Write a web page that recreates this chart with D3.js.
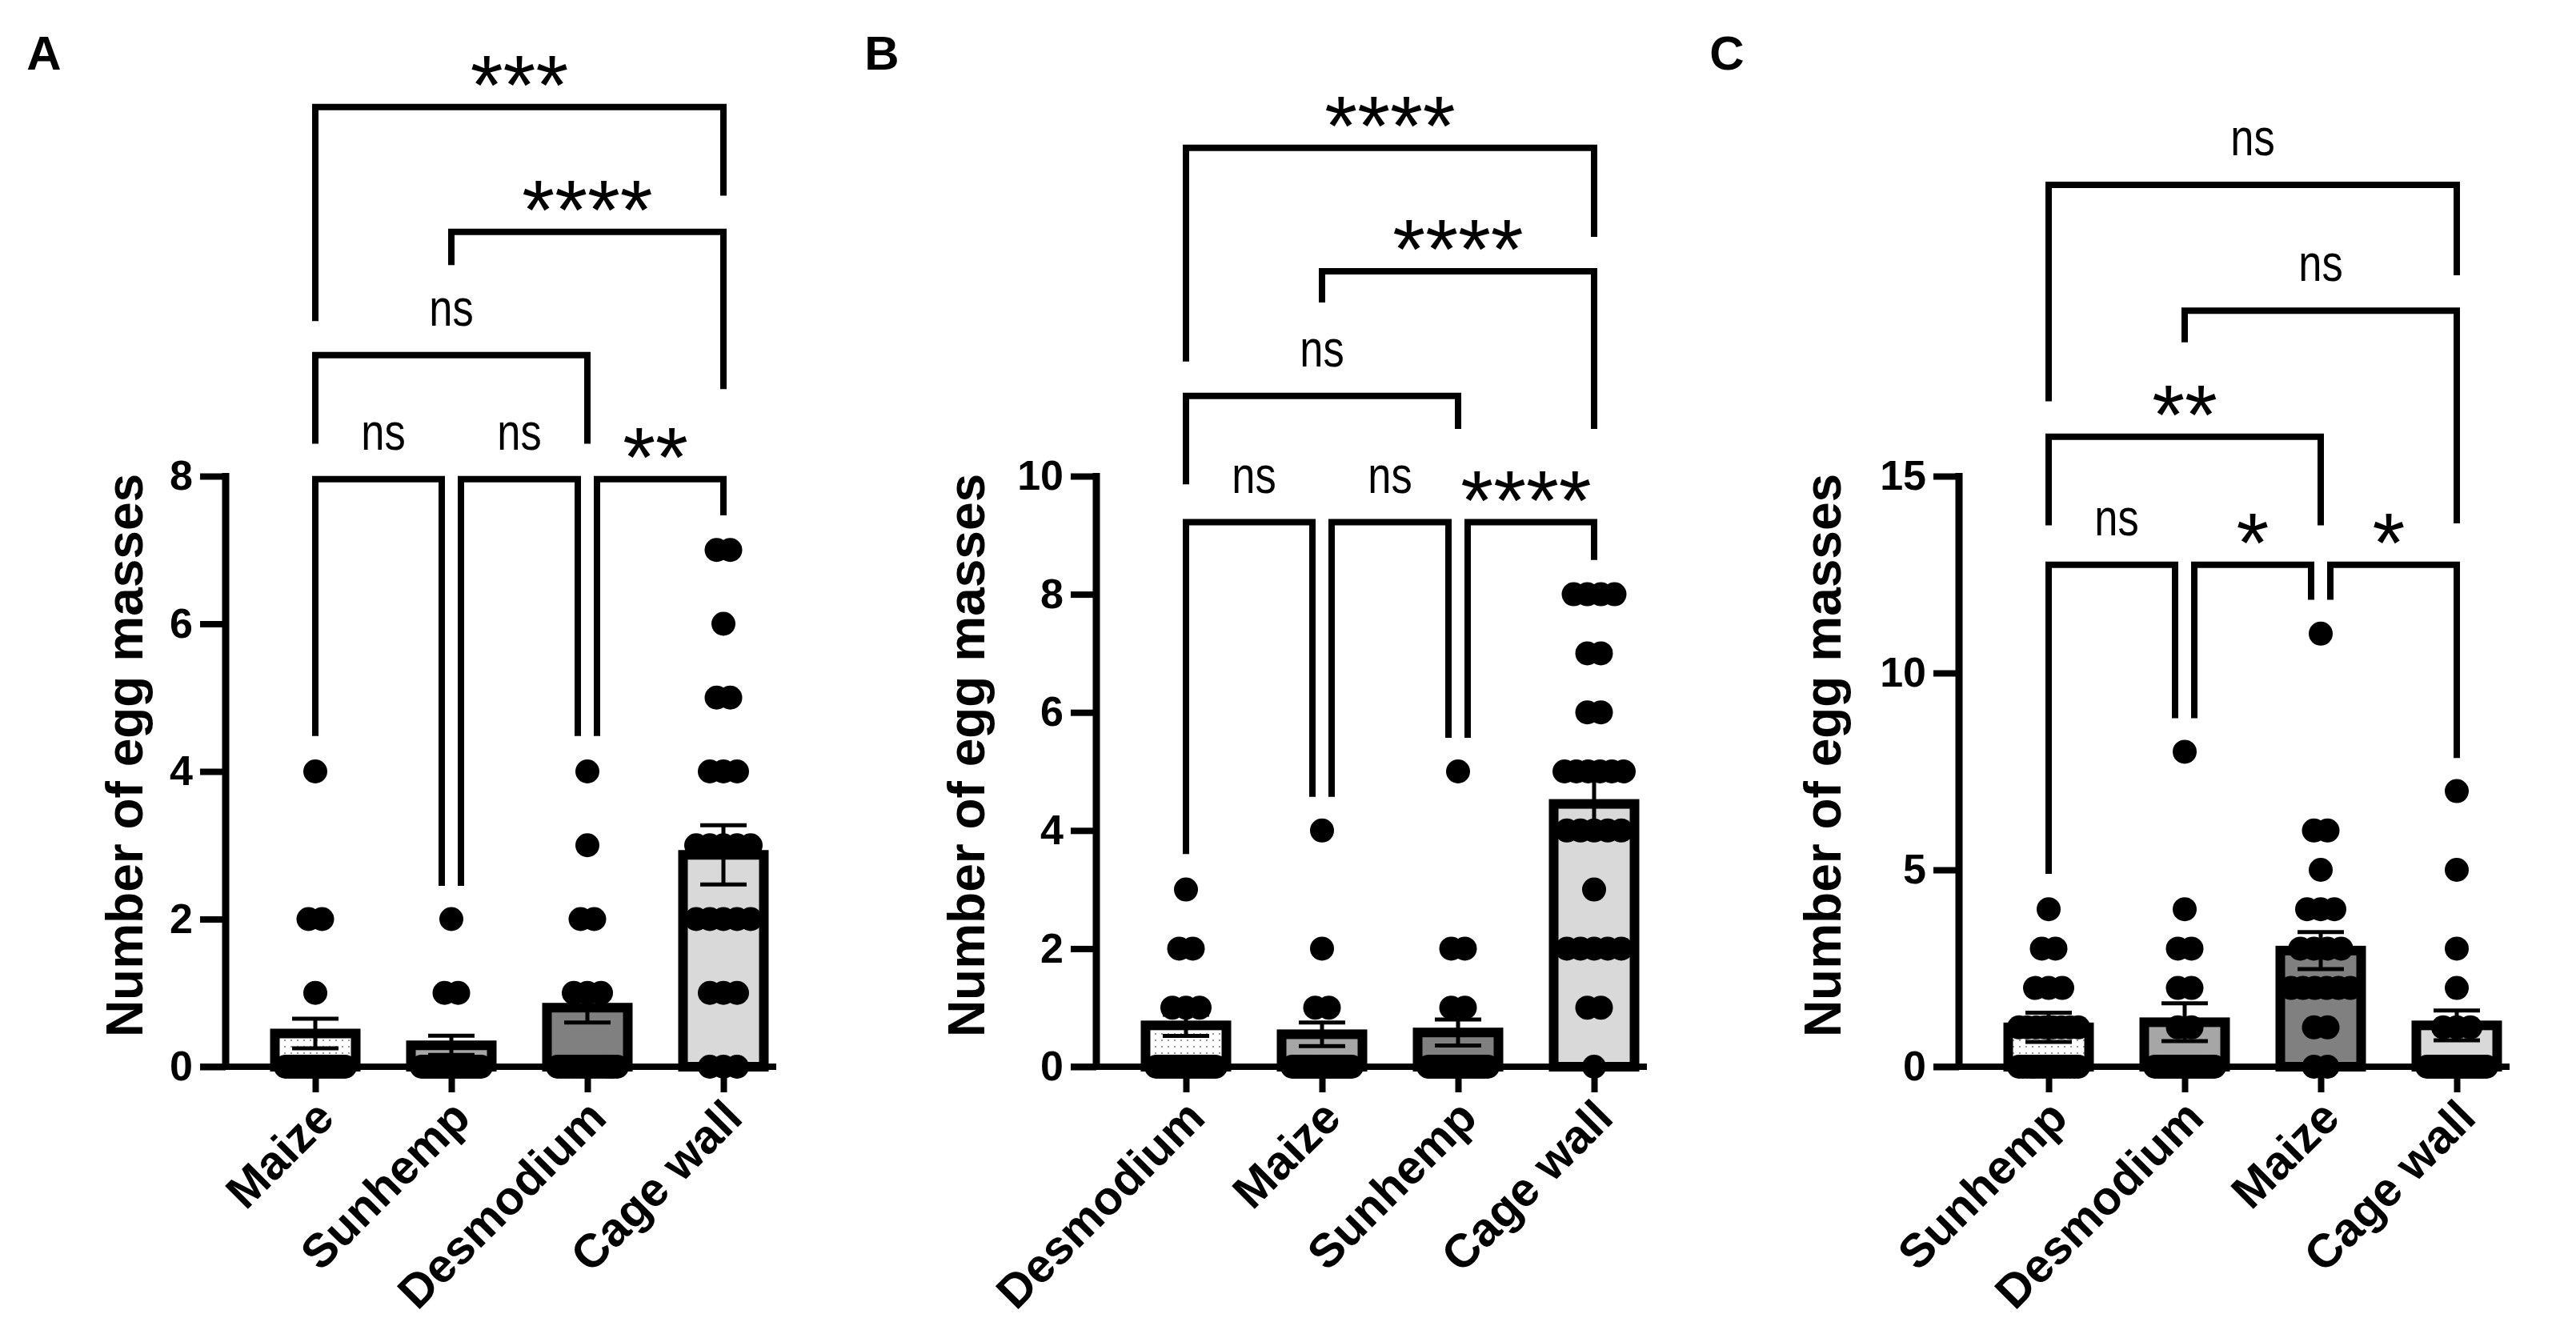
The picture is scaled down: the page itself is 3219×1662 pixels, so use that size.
<!DOCTYPE html>
<html><head><meta charset="utf-8">
<script src="https://cdn.jsdelivr.net/npm/d3@7"></script>
<style>body{margin:0;background:#fff}svg{display:block}</style>
</head><body>
<script>
// ---------- DATA ----------
const categoriesA = ["Maize", "Sunhemp", "Desmodium", "Cage wall"];
const categoriesB = ["Desmodium", "Maize", "Sunhemp", "Cage wall"];
const categoriesC = ["Sunhemp", "Desmodium", "Maize", "Cage wall"];

const meansA = [0.45, 0.29, 0.80, 2.87];
const semA   = [0.20, 0.13, 0.20, 0.40];
const meansB = [0.70, 0.55, 0.58, 4.45];
const semB   = [0.18, 0.20, 0.22, 0.42];
const meansC = [1.00, 1.13, 2.95, 1.05];
const semC   = [0.37, 0.48, 0.47, 0.38];

const pointsA = [
  [4,2,2,1,0,0,0,0,0,0,0,0,0,0,0,0,0,0,0,0,0,0,0,0],
  [2,1,1,0,0,0,0,0,0,0,0,0,0,0,0,0,0,0,0,0,0,0,0,0],
  [4,3,2,2,1,1,1,0,0,0,0,0,0,0,0,0,0,0,0,0,0,0,0,0],
  [7,7,6,5,5,4,4,4,3,3,3,3,3,2,2,2,2,2,1,1,1,0,0,0]
];
const pointsB = [
  [3,2,2,1,1,1,0,0,0,0,0,0,0,0,0,0,0,0,0,0,0,0,0,0,0,0,0],
  [4,2,1,1,0,0,0,0,0,0,0,0,0,0,0,0,0,0,0,0,0,0,0,0,0,0,0],
  [5,2,2,1,1,0,0,0,0,0,0,0,0,0,0,0,0,0,0,0,0,0,0,0,0,0,0],
  [8,8,8,8,7,7,6,6,5,5,5,5,5,5,4,4,4,4,4,3,2,2,2,2,2,1,1,0]
];
const pointsC = [
  [4,3,3,2,2,2,1,1,1,1,1,1,1,1,0,0,0,0,0,0,0,0,0,0,0,0,0,0,0,0],
  [8,4,3,3,2,2,1,1,0,0,0,0,0,0,0,0,0,0,0,0,0,0,0,0,0,0,0,0,0,0],
  [11,6,6,5,4,4,4,3,3,3,3,2,2,2,2,2,2,1,1,0,0],
  [7,5,3,2,1,1,1,0,0,0,0,0,0,0,0,0,0,0,0,0,0,0,0,0,0,0,0,0,0,0]
];

const yTicksA = [0, 2, 4, 6, 8];
const yTicksB = [0, 2, 4, 6, 8, 10];
const yTicksC = [0, 5, 10, 15];

// comparisons: [group i, group j, label, bracket level, leg end at i, leg end at j] (data units)
const bracketsA = [
  [0,1,"ns",7.96,4.48,2.45],[1,2,"ns",7.96,2.45,4.48],[2,3,"**",7.96,4.48,7.47],
  [0,2,"ns",9.64,8.44,8.44],[1,3,"****",11.31,10.86,9.18],[0,3,"***",13.0,10.1,11.8]
];
const bracketsB = [
  [0,1,"ns",9.22,3.6,4.57],[1,2,"ns",9.22,4.57,5.57],[2,3,"****",9.22,5.57,8.58],
  [0,2,"ns",11.36,9.86,10.8],[1,3,"****",13.47,12.94,10.8],[0,3,"****",15.56,11.94,14.05]
];
const bracketsC = [
  [0,1,"ns",12.75,4.9,8.85],[1,2,"*",12.75,8.85,11.86],[2,3,"*",12.75,11.86,7.84],
  [0,2,"**",16.0,13.75,13.75],[1,3,"ns",19.2,18.4,13.8],[0,3,"ns",22.4,16.9,20.1]
];

// ---------- LAYOUT ----------
const W = 3219, H = 1662;
const Y0 = 1333, YTOP = 595, STEP = 170, FIRST = 112;
const FONT = "'Liberation Sans', Arial, Helvetica, sans-serif";
const fills = ["url(#dotfill)", "#a6a6a6", "#808080", "#d9d9d9"];

const panels = [
  {letter:"A", cats:categoriesA, means:meansA, sem:semA, pts:pointsA, ticks:yTicksA, brackets:bracketsA, axisX:282, titleX:178, letterX:55},
  {letter:"B", cats:categoriesB, means:meansB, sem:semB, pts:pointsB, ticks:yTicksB, brackets:bracketsB, axisX:1370, titleX:1230, letterX:1102},
  {letter:"C", cats:categoriesC, means:meansC, sem:semC, pts:pointsC, ticks:yTicksC, brackets:bracketsC, axisX:2448, titleX:2300, letterX:2158}
];

const svg = d3.select("body").append("svg").attr("width", W).attr("height", H);
svg.append("rect").attr("width", W).attr("height", H).attr("fill", "#fff");
const pat = svg.append("defs").append("pattern").attr("id", "dotfill")
  .attr("width", 8).attr("height", 8).attr("patternUnits", "userSpaceOnUse");
pat.append("rect").attr("width", 8).attr("height", 8).attr("fill", "#fff");
pat.append("rect").attr("x", 3).attr("y", 3).attr("width", 2).attr("height", 2).attr("fill", "#9a9a9a");

function layoutPoints(vals) {
  const out = [];
  const groups = d3.group(vals, v => v);
  for (const [v, arr] of groups) {
    const k = arr.length;
    const step = k > 1 ? Math.min(17, 74 / (k - 1)) : 0;
    arr.forEach((_, i) => out.push({v, dx: (i - (k - 1) / 2) * step}));
  }
  return out;
}

panels.forEach(p => {
  const g = svg.append("g");
  const yMax = p.ticks[p.ticks.length - 1];
  const y = d3.scaleLinear().domain([0, yMax]).range([Y0, YTOP]);
  const x = d3.scalePoint().domain(p.cats).range([p.axisX + FIRST, p.axisX + FIRST + 3 * STEP]);

  // panel letter
  g.append("text").attr("x", p.letterX).attr("y", 87).attr("text-anchor", "middle")
    .style("font-family", FONT).style("font-weight", "bold").style("font-size", "60px").text(p.letter);

  // bars
  const barW = 101;
  g.selectAll("rect.bar").data(p.cats).join("rect").attr("class", "bar")
    .attr("x", d => x(d) - barW / 2).attr("width", barW)
    .attr("y", (d, i) => y(p.means[i])).attr("height", (d, i) => Y0 - y(p.means[i]))
    .attr("fill", (d, i) => fills[i]).attr("stroke", "#000").attr("stroke-width", 12);

  // error bars
  const eb = g.selectAll("g.err").data(p.cats).join("g").attr("class", "err")
    .attr("stroke", "#000").attr("stroke-width", 5);
  eb.append("line").attr("x1", d => x(d)).attr("x2", d => x(d))
    .attr("y1", (d, i) => y(p.means[i] - p.sem[i])).attr("y2", (d, i) => y(p.means[i] + p.sem[i]));
  eb.append("line").attr("x1", d => x(d) - 29).attr("x2", d => x(d) + 29)
    .attr("y1", (d, i) => y(p.means[i] + p.sem[i])).attr("y2", (d, i) => y(p.means[i] + p.sem[i]));
  eb.append("line").attr("x1", d => x(d) - 29).attr("x2", d => x(d) + 29)
    .attr("y1", (d, i) => y(p.means[i] - p.sem[i])).attr("y2", (d, i) => y(p.means[i] - p.sem[i]));

  // points
  p.cats.forEach((c, i) => {
    g.append("g").selectAll("circle").data(layoutPoints(p.pts[i])).join("circle")
      .attr("cx", d => x(c) + d.dx).attr("cy", d => y(d.v)).attr("r", 15).attr("fill", "#000");
  });

  // y axis
  const ya = g.append("g").attr("transform", `translate(${p.axisX},0)`)
    .call(d3.axisLeft(y).tickValues(p.ticks).tickSize(32).tickSizeOuter(0).tickPadding(9).tickFormat(d3.format("d")));
  ya.select(".domain").remove();
  ya.selectAll(".tick line").attr("stroke", "#000").attr("stroke-width", 8);
  ya.selectAll(".tick text").style("font-family", FONT).style("font-weight", "bold").style("font-size", "52px").attr("fill", "#000");
  g.append("line").attr("x1", p.axisX).attr("x2", p.axisX).attr("y1", y(0)).attr("y2", y(yMax) - 4)
    .attr("stroke", "#000").attr("stroke-width", 9);

  // x axis
  const xa = g.append("g").attr("transform", `translate(0,${Y0})`)
    .call(d3.axisBottom(x).tickSize(32).tickSizeOuter(0));
  xa.select(".domain").remove();
  xa.selectAll(".tick line").attr("stroke", "#000").attr("stroke-width", 8);
  xa.selectAll(".tick text").attr("x", 0).attr("y", 0).attr("dy", 0)
    .attr("transform", "translate(26,67) rotate(-45)").style("text-anchor", "end")
    .style("font-family", FONT).style("font-weight", "bold").style("font-size", "59px").attr("fill", "#000");
  g.append("line").attr("x1", p.axisX - 32).attr("x2", x(p.cats[3]) + 66).attr("y1", Y0).attr("y2", Y0)
    .attr("stroke", "#000").attr("stroke-width", 8);

  // y title
  g.append("text").attr("transform", `translate(${p.titleX},${(Y0 + YTOP) / 2 - 20}) rotate(-90)`)
    .attr("text-anchor", "middle").style("font-family", FONT).style("font-weight", "bold").style("font-size", "64px")
    .text("Number of egg masses");

  // brackets
  p.brackets.forEach(b => {
    const [i, j, label, lvl, li, lj] = b;
    const sameRow = p.brackets.filter(o => o !== b && o[3] === lvl);
    const x1 = x(p.cats[i]) + (sameRow.some(o => o[1] === i) ? 12 : 0);
    const x2 = x(p.cats[j]) - (sameRow.some(o => o[0] === j) ? 12 : 0);
    const yl = y(lvl);
    g.append("path").attr("d", `M${x1},${y(li)}V${yl}H${x2}V${y(lj)}`)
      .attr("fill", "none").attr("stroke", "#000").attr("stroke-width", 8).attr("stroke-linejoin", "miter");
    const cx = (x(p.cats[i]) + x(p.cats[j])) / 2;
    if (label === "ns") {
      g.append("text").attr("transform", `translate(${cx},${yl - 37}) scale(0.82,1)`)
        .attr("text-anchor", "middle").style("font-family", FONT).style("font-size", "64px").text(label);
    } else {
      g.append("text").attr("x", cx).attr("y", yl + 9).attr("text-anchor", "middle")
        .style("font-family", FONT).style("font-size", "105px").text(label);
    }
  });
});
</script>
</body></html>
